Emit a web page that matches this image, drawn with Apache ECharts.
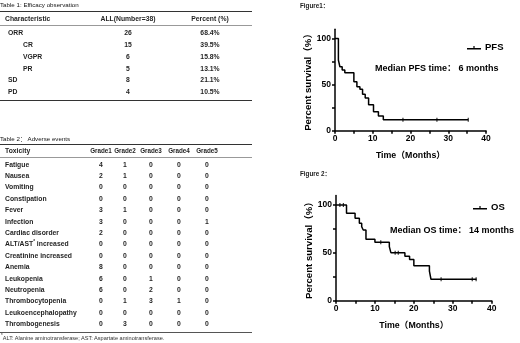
<!DOCTYPE html>
<html><head><meta charset="utf-8">
<script src="https://cdn.jsdelivr.net/npm/echarts@6/dist/echarts.min.js"></script>
<style>
html,body{margin:0;padding:0;background:#fff;}
#chart{position:absolute;left:0;top:0;width:520px;height:343px;}
#tables{position:absolute;left:0;top:0;width:260px;height:343px;font-family:"Liberation Sans",Arial,"Noto Sans CJK SC",sans-serif;color:#1f1f1f;}
.t{position:absolute;white-space:nowrap;line-height:10px;height:10px;}
.rule{position:absolute;left:0;width:252px;}
sup{font-size:4.5px;vertical-align:top;line-height:6px;}
</style></head><body>
<div id="chart"></div><div id="tables"></div>
<script>
// ---------- Table 1 data ----------
const t1Title = 'Table 1: Efficacy observation';
const t1Header = ['Characteristic', 'ALL(Number=38)', 'Percent (%)'];
const t1Categories = ['ORR', 'CR', 'VGPR', 'PR', 'SD', 'PD'];
const t1Indent = [0, 1, 1, 1, 0, 0];
const t1Number = [26, 15, 6, 5, 8, 4];
const t1Percent = ['68.4%', '39.5%', '15.8%', '13.1%', '21.1%', '10.5%'];

// ---------- Table 2 data ----------
const t2Title = 'Table 2\uFF1A Adverse events';
const t2Header = ['Toxicity', 'Grade1', 'Grade2', 'Grade3', 'Grade4', 'Grade5'];
const t2Toxicity = ['Fatigue', 'Nausea', 'Vomiting', 'Constipation', 'Fever', 'Infection', 'Cardiac disorder',
  'ALT/AST<sup>*</sup> increased', 'Creatinine increased', 'Anemia', 'Leukopenia', 'Neutropenia',
  'Thrombocytopenia', 'Leukoencephalopathy', 'Thrombogenesis'];
const t2Grade1 = [4, 2, 0, 0, 3, 3, 2, 0, 0, 8, 6, 6, 0, 0, 0];
const t2Grade2 = [1, 1, 0, 0, 1, 0, 0, 0, 0, 0, 0, 0, 1, 0, 3];
const t2Grade3 = [0, 0, 0, 0, 0, 0, 0, 0, 0, 0, 1, 2, 3, 0, 0];
const t2Grade4 = [0, 0, 0, 0, 0, 0, 0, 0, 0, 0, 0, 0, 1, 0, 0];
const t2Grade5 = [0, 0, 0, 0, 0, 1, 0, 0, 0, 0, 0, 0, 0, 0, 0];
const t2Footnote = '<sup>*</sup>ALT: Alanine aminotransferase; AST: Aspartate aminotransferase.';

// ---------- Figure 1 (PFS) data ----------
const pfsTime = [0, 0.9, 1.3, 1.9, 2.6, 5.0, 5.8, 6.6, 7.3, 8.0, 8.9, 10.2, 11.5, 12.8, 35.3];
const pfsSurv = [100, 76.5, 69.3, 65.7, 62.8, 53, 47.6, 44.8, 39.4, 35.5, 28, 20.5, 16, 12, 12];
const pfsCensorTime = [18, 27, 35.3];
const pfsCensorSurv = [12, 12, 12];

// ---------- Figure 2 (OS) data ----------
const osTime = [0, 2.7, 4.9, 6.0, 6.6, 7.0, 7.7, 10.0, 13.7, 14.1, 17.7, 18.9, 20.0, 24.0, 24.4, 36.1];
const osSurv = [100, 91.3, 86, 80.8, 77.3, 73.9, 64.1, 61, 56.5, 50.2, 46.5, 43, 36.5, 31, 22.4, 22.4];
const osCensorTime = [1, 1.9, 11.5, 15.2, 16, 27, 35, 36];
const osCensorSurv = [100, 100, 61, 50.2, 50.2, 22.4, 22.4, 22.4];

// ---------- axis ticks ----------
const xTickValues = [0, 5, 10, 15, 20, 25, 30, 35, 40];
const xLabelValues = [0, 10, 20, 30, 40];
const yTickValues = [0, 25, 50, 75, 100];
const yLabelValues = [0, 50, 100];

// ---------- build tables (HTML text) ----------
const host = document.getElementById('tables');
function txt(x, y, html, o) {
  o = o || {};
  const d = document.createElement('div');
  d.className = 't';
  d.innerHTML = html;
  d.style.left = x + 'px';
  d.style.top = (y - 5) + 'px';
  d.style.fontSize = (o.size || 6.8) + 'px';
  d.style.fontWeight = o.weight || 'bold';
  if (o.color) d.style.color = o.color;
  if (o.center) d.style.transform = 'translateX(-50%)';
  host.appendChild(d);
}
function rule(y, h, color) {
  const d = document.createElement('div');
  d.className = 'rule';
  d.style.top = y + 'px';
  d.style.height = h + 'px';
  d.style.background = color;
  host.appendChild(d);
}
// Table 1
txt(0, 5, t1Title, {size: 6.2, weight: 'normal', color: '#111'});
rule(11, 1.4, '#333');
txt(5, 18.5, t1Header[0]);
txt(128, 18.5, t1Header[1], {center: true});
txt(210, 18.5, t1Header[2], {center: true});
rule(25, 0.8, '#999');
t1Categories.forEach((c, i) => {
  const y = 32.8 + i * 11.9;
  txt(t1Indent[i] ? 23 : 8, y, c);
  txt(128, y, String(t1Number[i]), {center: true});
  txt(210, y, t1Percent[i], {center: true});
});
rule(99.5, 1.4, '#333');
// Table 2
const gx = [101, 125, 151, 179, 207];
txt(0, 139, t2Title, {size: 6.2, weight: 'normal', color: '#111'});
rule(143.5, 1.4, '#333');
txt(5, 151, t2Header[0]);
t2Header.slice(1).forEach((h, j) => txt(gx[j], 151, h, {center: true, size: 6.3}));
rule(156.8, 0.8, '#999');
const grades = [t2Grade1, t2Grade2, t2Grade3, t2Grade4, t2Grade5];
t2Toxicity.forEach((name, i) => {
  const y = 164.5 + i * 11.4;
  txt(5, y, name);
  grades.forEach((g, j) => txt(gx[j], y, String(g[i]), {center: true}));
});
rule(331.5, 1.6, '#555');
txt(1, 338, t2Footnote, {size: 5.6, weight: 'normal', color: '#333'});

// ---------- charts ----------
const FF = '"Liberation Sans", Arial, "Noto Sans CJK SC", sans-serif';
const zip = (a, b) => a.map((v, i) => [v, b[i]]);
function xAx(g) {
  return {
    type: 'value', gridIndex: g, min: 0, max: 40, interval: 10,
    axisLine: {show: true, onZero: false, lineStyle: {color: '#000', width: 1.5}},
    axisTick: {show: true, customValues: xTickValues, length: 3, lineStyle: {color: '#000', width: 1.5}},
    axisLabel: {customValues: xLabelValues, color: '#000', fontSize: 8.5, fontWeight: 'bold', fontFamily: FF, margin: 4},
    splitLine: {show: false},
    name: 'Time\uFF08Months\uFF09', nameLocation: 'middle', nameGap: 20.5,
    nameTextStyle: {color: '#000', fontSize: 8.8, fontWeight: 'bold', fontFamily: FF}
  };
}
function yAx(g) {
  return {
    type: 'value', gridIndex: g, min: 0, max: 110, interval: 50,
    axisLine: {show: true, onZero: false, lineStyle: {color: '#000', width: 1.5}},
    axisTick: {show: true, customValues: yTickValues, length: 3, lineStyle: {color: '#000', width: 1.5}},
    axisLabel: {customValues: yLabelValues, color: '#000', fontSize: 8.5, fontWeight: 'bold', fontFamily: FF, margin: 4},
    splitLine: {show: false},
    name: 'Percent survival\uFF08%\uFF09', nameLocation: 'middle', nameGap: 21,
    nameTextStyle: {color: '#000', fontSize: 9.6, fontWeight: 'bold', fontFamily: FF}
  };
}
const legendIcon = 'path://M0,4h14v1.6h-14z M6.4,2h1.2v3.6h-1.2z';
function legend(name, left, top) {
  return {
    data: [name], left: left, top: top, icon: legendIcon, itemWidth: 14, itemHeight: 3.6, itemGap: 5,
    textStyle: {color: '#000', fontSize: 9.5, fontWeight: 'bold', fontFamily: FF, padding: [0, 0, 0, -1]},
    padding: 0, selectedMode: false
  };
}
const lineSeries = (name, g, t, s) => ({
  name, type: 'line', xAxisIndex: g, yAxisIndex: g, step: 'end', data: zip(t, s),
  showSymbol: false, symbol: 'none', lineStyle: {color: '#000', width: 1.5}, itemStyle: {color: '#000'}, silent: true
});
const censorSeries = (g, t, s) => ({
  name: 'censored' + g, type: 'scatter', xAxisIndex: g, yAxisIndex: g, data: zip(t, s),
  symbol: 'rect', symbolSize: [1.2, 4], itemStyle: {color: '#000'}, silent: true
});
const chart = echarts.init(document.getElementById('chart'), null, {renderer: 'canvas'});
chart.setOption({
  animation: false,
  backgroundColor: 'transparent',
  grid: [
    {left: 335, top: 29.2, width: 151, height: 101.5},
    {left: 336, top: 195.4, width: 155.7, height: 105.3}
  ],
  xAxis: [xAx(0), xAx(1)],
  yAxis: [yAx(0), yAx(1)],
  legend: [legend('PFS', 467, 43), legend('OS', 473, 203)],
  series: [
    lineSeries('PFS', 0, pfsTime, pfsSurv),
    censorSeries(0, pfsCensorTime, pfsCensorSurv),
    lineSeries('OS', 1, osTime, osSurv),
    censorSeries(1, osCensorTime, osCensorSurv)
  ],
  graphic: [
    {type: 'text', left: 300, top: 3.5, style: {text: 'Figure1\uFF1A', fontSize: 6.3, fontWeight: 'bold', fontFamily: FF, fill: '#222'}},
    {type: 'text', left: 300, top: 171.5, style: {text: 'Figure 2\uFF1A', fontSize: 6.3, fontWeight: 'bold', fontFamily: FF, fill: '#222'}},
    {type: 'text', left: 375, top: 64.5, style: {text: 'Median PFS time\uFF1A 6 months', fontSize: 9, fontWeight: 'bold', fontFamily: FF, fill: '#000'}},
    {type: 'text', left: 390, top: 226, style: {text: 'Median OS time\uFF1A 14 months', fontSize: 9, fontWeight: 'bold', fontFamily: FF, fill: '#000'}}
  ]
});
</script>
</body></html>
